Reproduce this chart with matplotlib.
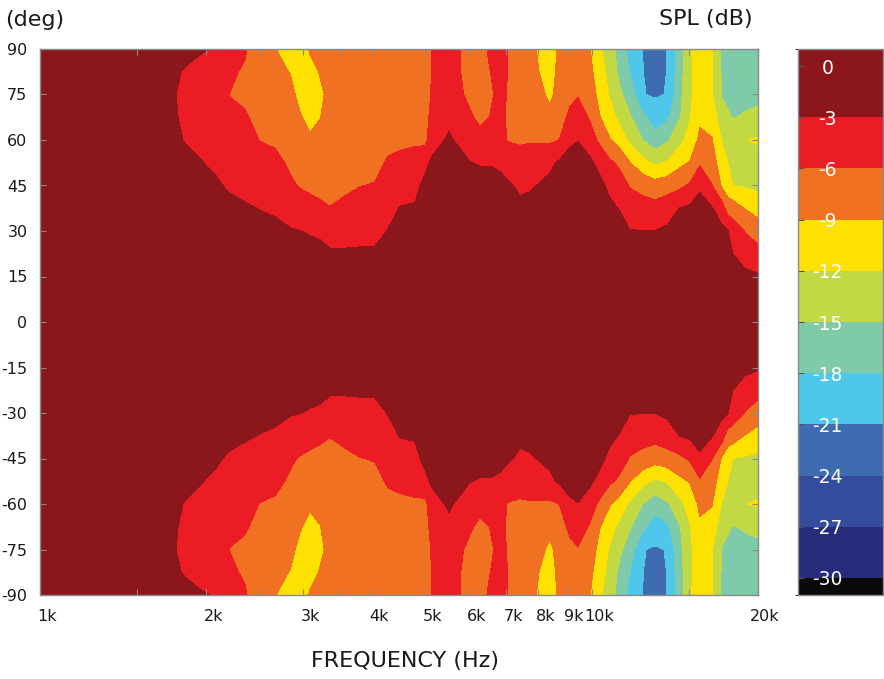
import numpy as np
import matplotlib
matplotlib.use("Agg")
import matplotlib.pyplot as plt
from matplotlib.colors import ListedColormap, BoundaryNorm
from matplotlib.cm import ScalarMappable
from matplotlib.ticker import FixedLocator, FixedFormatter, NullFormatter
from matplotlib.transforms import ScaledTranslation

# frequency columns of the table (Hz)
FREQS = [1000, 1580, 1760, 1830, 1950, 2075, 2210, 2350, 2500, 2665,
         2840, 2960, 3085, 3215, 3350, 3570, 3800, 4045, 4270, 4490,
         4780, 4985, 5130, 5305, 5510, 5770, 6010, 6270, 6535, 6815,
         7100, 7405, 7720, 8050, 8390, 8750, 9125, 9435, 9915, 10340,
         10780, 11240, 11720, 12375, 13010, 13680, 14435, 15050, 15690, 16500,
         17200, 17635, 18005, 18930, 20000]

# off-axis angles of the table (deg), upper half - the plot is symmetric
ANGLES = [0, 15, 30, 37.5, 45, 52.5, 60, 67.5, 75, 82.5, 90]

# SPL (dB re on-axis), one row per frequency, one value per angle
SPL = [
    [0, 0.0, -0.2, -0.3, -0.4, -0.5, -0.6, -0.7, -0.8, -0.9, -1.0],
    [0, -0.1, -0.4, -0.6, -0.8, -1.0, -1.2, -1.4, -1.6, -1.8, -2.0],
    [0, -0.3, -0.8, -1.2, -1.6, -2.1, -2.6, -2.85, -2.97, -2.85, -2.7],
    [0, -0.3, -0.9, -1.3, -1.8, -2.4, -3.1, -3.4, -3.5, -3.1, -2.6],
    [0, -0.4, -1.2, -1.7, -2.3, -2.9, -3.5, -4.0, -4.2, -3.6, -2.8],
    [0, -0.5, -1.5, -2.1, -2.7, -3.3, -4.0, -4.5, -4.8, -4.0, -3.1],
    [0, -0.6, -1.8, -2.4, -3.3, -4.0, -4.8, -5.6, -6.05, -5.6, -4.6],
    [0, -0.8, -2.2, -2.8, -3.5, -4.2, -5.0, -5.7, -6.5, -6.3, -5.7],
    [0, -0.9, -2.4, -3.05, -4.0, -5.0, -6.05, -6.8, -7.4, -7.6, -7.7],
    [0, -0.9, -2.5, -3.3, -4.3, -5.3, -6.4, -7.3, -8.0, -8.6, -8.95],
    [0, -1.0, -2.8, -4.2, -5.6, -6.4, -7.1, -7.8, -8.4, -9.05, -9.6],
    [0, -1.1, -2.95, -4.6, -6.2, -7.0, -7.9, -8.8, -9.6, -10.0, -10.2],
    [0, -1.2, -3.2, -5.0, -6.6, -7.6, -8.7, -9.6, -10.2, -9.6, -8.8],
    [0, -1.3, -3.4, -5.4, -6.9, -7.7, -8.5, -9.05, -9.3, -8.9, -8.5],
    [0, -1.5, -3.9, -5.9, -7.1, -7.7, -8.1, -8.4, -8.6, -8.4, -8.1],
    [0, -1.5, -3.9, -5.4, -6.5, -7.0, -7.4, -7.6, -7.7, -7.7, -7.6],
    [0, -1.5, -3.8, -4.9, -6.05, -6.6, -7.0, -7.3, -7.4, -7.5, -7.5],
    [0, -1.4, -3.8, -4.9, -5.9, -6.5, -6.9, -7.1, -7.3, -7.4, -7.4],
    [0, -1.2, -2.9, -3.9, -4.9, -5.8, -6.5, -6.9, -7.1, -7.2, -7.2],
    [0, -0.9, -2.2, -2.9, -3.9, -5.3, -6.6, -6.8, -7.0, -7.0, -7.0],
    [0, -0.8, -2.0, -2.8, -3.6, -5.0, -6.4, -6.7, -6.8, -6.8, -6.8],
    [0, -0.5, -1.4, -1.9, -2.4, -3.6, -6.8, -6.5, -6.5, -6.5, -6.5],
    [0, -0.4, -1.2, -1.6, -2.0, -2.6, -4.0, -5.6, -5.9, -5.95, -5.95],
    [0, -0.2, -0.5, -0.8, -1.0, -1.8, -3.4, -4.4, -4.8, -5.0, -5.2],
    [0, -0.2, -0.4, -0.6, -0.8, -1.4, -2.6, -3.7, -4.3, -4.7, -5.0],
    [0, -0.2, -0.5, -0.7, -1.0, -2.0, -3.6, -4.8, -5.7, -5.95, -5.98],
    [0, -0.2, -0.6, -1.0, -1.6, -2.9, -4.5, -5.7, -6.5, -6.8, -6.9],
    [0, -0.3, -0.7, -1.1, -1.8, -3.2, -5.3, -6.5, -7.0, -7.1, -7.1],
    [0, -0.3, -0.8, -1.2, -1.9, -3.2, -5.0, -5.95, -6.4, -6.05, -5.5],
    [0, -0.3, -0.9, -1.4, -2.2, -3.5, -5.6, -5.5, -5.3, -5.0, -4.8],
    [0, -0.4, -1.1, -1.8, -2.8, -4.4, -6.2, -6.4, -6.4, -6.3, -6.3],
    [0, -0.4, -1.4, -2.5, -3.4, -5.0, -6.3, -6.8, -7.0, -7.1, -7.2],
    [0, -0.4, -1.2, -2.2, -3.3, -4.8, -6.2, -7.0, -7.6, -7.9, -8.0],
    [0, -0.4, -1.1, -1.9, -2.8, -4.4, -6.3, -7.4, -8.3, -9.1, -9.6],
    [0, -0.4, -1.0, -1.6, -2.3, -3.6, -6.5, -8.2, -9.6, -10.2, -10.5],
    [0, -0.3, -0.8, -1.2, -1.7, -2.5, -5.9, -7.2, -7.8, -8.1, -8.3],
    [0, -0.2, -0.5, -0.8, -1.2, -1.9, -3.5, -5.3, -6.8, -7.6, -8.2],
    [0, -0.1, -0.3, -0.5, -0.8, -1.6, -3.1, -4.6, -6.2, -7.4, -8.1],
    [0, -0.2, -0.5, -0.9, -1.4, -2.4, -4.6, -6.3, -7.4, -8.2, -8.9],
    [0, -0.2, -0.6, -1.3, -2.2, -4.0, -6.6, -8.9, -10.0, -10.8, -11.6],
    [0, -0.3, -1.3, -2.3, -3.8, -5.5, -8.8, -10.8, -12.3, -13.0, -13.6],
    [0, -0.4, -1.8, -3.2, -4.7, -6.6, -10.4, -12.9, -14.5, -15.8, -16.5],
    [0, -0.5, -2.9, -4.5, -6.2, -8.9, -12.6, -14.7, -16.4, -18.1, -19.0],
    [0, -0.5, -2.95, -4.8, -7.0, -11.1, -15.05, -17.3, -20.9, -20.95, -21.05],
    [0, -0.5, -2.95, -5.0, -7.7, -12.5, -16.8, -19.5, -21.3, -22.2, -23.0],
    [0, -0.6, -2.5, -4.4, -7.2, -11.8, -15.4, -18.6, -20.9, -20.95, -21.0],
    [0, -0.5, -2.1, -2.95, -6.6, -9.7, -12.9, -15.2, -15.8, -16.2, -16.5],
    [0, -0.4, -1.8, -2.5, -5.6, -8.8, -10.8, -12.2, -12.5, -12.5, -12.3],
    [0, -0.4, -1.5, -2.3, -3.3, -6.4, -8.4, -9.5, -10.5, -10.6, -10.6],
    [0, -0.6, -2.2, -2.8, -5.9, -7.5, -8.8, -10.4, -11.8, -11.9, -11.9],
    [0, -1.0, -2.4, -4.5, -9.3, -10.8, -12.1, -13.8, -15.2, -15.3, -15.3],
    [0, -1.4, -2.9, -7.3, -10.8, -12.0, -12.0, -14.5, -15.8, -16.2, -16.3],
    [0, -1.5, -4.5, -7.4, -12.0, -13.0, -12.1, -15.2, -16.2, -16.5, -16.6],
    [0, -2.3, -6.1, -9.1, -12.3, -13.4, -12.1, -14.6, -16.2, -16.6, -16.7],
    [0, -2.7, -7.4, -10.2, -12.7, -13.2, -11.7, -14.2, -15.8, -16.3, -16.5],
]

LEVELS = [-40, -30, -27, -24, -21, -18, -15, -12, -9, -6, -3, 5]
COLORS = ['#0a0a0a', '#262b7b', '#344c9d', '#3f6cb1', '#4ec7ea', '#7fcba9',
          '#c3d944', '#fde100', '#f07122', '#ec1c24', '#8b161c']
CB_BOUNDS = [-31, -30, -27, -24, -21, -18, -15, -12, -9, -6, -3, 1]
CB_TICKS = [0, -3, -6, -9, -12, -15, -18, -21, -24, -27, -30]

XTICKS = [1000, 2000, 3000, 4000, 5000, 6000, 7000, 8000, 9000, 10000, 20000]
XTICK_LABELS = ['1k', '2k', '3k', '4k', '5k', '6k', '7k', '8k', '9k', '10k', '20k']
XMINOR = [1500, 2500, 3500, 15000]
YTICKS = [90, 75, 60, 45, 30, 15, 0, -15, -30, -45, -60, -75, -90]

W, H = 884, 679
TXT = '#1a1a1a'
GRAY = '#8a8a8a'

# full table: mirror the upper half onto negative angles
z = np.array(SPL).T
ang = np.array(ANGLES)
ang_all = np.concatenate([-ang[:0:-1], ang])
z_all = np.vstack([z[:0:-1], z])

fig = plt.figure(figsize=(W / 100, H / 100), dpi=100)
ax = fig.add_axes([40 / W, 1 - 595 / H, 718 / W, 546 / H])

cf = ax.contourf(FREQS, ang_all, z_all, levels=LEVELS, colors=COLORS)
ax.set_xscale('log')
ax.set_xlim(1000, 20000)
ax.set_ylim(-90, 90)

ax.xaxis.set_major_locator(FixedLocator(XTICKS))
ax.xaxis.set_major_formatter(FixedFormatter(XTICK_LABELS))
ax.xaxis.set_minor_locator(FixedLocator(XMINOR))
ax.xaxis.set_minor_formatter(NullFormatter())
ax.set_yticks(YTICKS)
ax.set_yticklabels([str(v) for v in YTICKS])

ax.tick_params(which='both', direction='in', top=True, right=True,
               length=4, width=0.8, color=GRAY, labelsize=11.5, labelcolor=TXT)
ax.tick_params(axis='x', pad=10)
ax.tick_params(axis='y', pad=9)
for sp in ax.spines.values():
    sp.set_color(GRAY)
    sp.set_linewidth(1)

shift = ScaledTranslation(7 / 100, 0, fig.dpi_scale_trans)
for lab in ax.get_xticklabels():
    lab.set_transform(lab.get_transform() + shift)

# colour bar
cax = fig.add_axes([798 / W, 1 - 595 / H, 85 / W, 546 / H])
cmap = ListedColormap(COLORS)
norm = BoundaryNorm(CB_BOUNDS, cmap.N)
cb = fig.colorbar(ScalarMappable(norm=norm, cmap=cmap), cax=cax,
                  spacing='proportional', ticks=CB_TICKS)
cb.ax.yaxis.set_ticks_position('left')
cb.ax.tick_params(direction='in', length=4, width=0.8, color='#555555',
                  labelleft=False, labelright=False)
cb.outline.set_edgecolor(GRAY)
cb.outline.set_linewidth(1)
for v in CB_TICKS:
    cax.text(0.35, v - 0.12, str(v), transform=cax.get_yaxis_transform(),
             ha='center', va='center', color='white', fontsize=13.5)

fig.text(5 / W, 1 - 20 / H, '(deg)', ha='left', va='center', fontsize=16, color=TXT)
fig.text(753 / W, 1 - 19 / H, 'SPL (dB)', ha='right', va='center', fontsize=16, color=TXT)
fig.text(405 / W, 1 - 661 / H, 'FREQUENCY (Hz)', ha='center', va='center',
         fontsize=16, color=TXT)

fig.savefig('out.png', dpi=100)
